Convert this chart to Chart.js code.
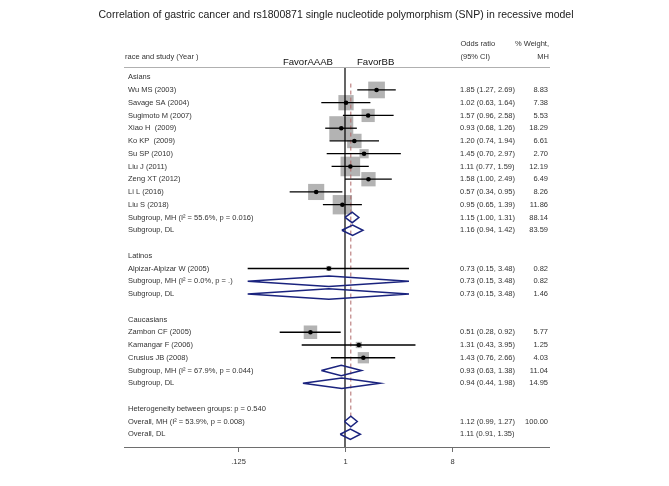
<!DOCTYPE html>
<html><head><meta charset="utf-8">
<script src="https://cdn.jsdelivr.net/npm/chart.js@4"></script>
<style>html,body{margin:0;padding:0;background:#fff}#wrap{width:669px;height:486px;position:relative}</style>
</head><body><div id="wrap"><canvas id="c"></canvas></div>
<script>
const titleText = "Correlation of gastric cancer and rs1800871 single nucleotide polymorphism (SNP) in recessive model";
const rowLabels = [
  "Asians","Wu MS (2003)","Savage SA (2004)","Sugimoto M (2007)","Xiao H  (2009)","Ko KP  (2009)",
  "Su SP (2010)","Liu J (2011)","Zeng XT (2012)","Li L (2016)","Liu S (2018)",
  "Subgroup, MH (I\u00B2 = 55.6%, p = 0.016)","Subgroup, DL","",
  "Latinos","Alpizar-Alpizar W (2005)","Subgroup, MH (I\u00B2 = 0.0%, p = .)","Subgroup, DL","",
  "Caucasians","Zambon CF (2005)","Kamangar F (2006)","Crusius JB (2008)",
  "Subgroup, MH (I\u00B2 = 67.9%, p = 0.044)","Subgroup, DL","",
  "Heterogeneity between groups: p = 0.540","Overall, MH (I\u00B2 = 53.9%, p = 0.008)","Overall, DL"
];
const rowKind = [
  "group","study","study","study","study","study","study","study","study","study","study","pooled","pooled","blank",
  "group","study","pooled","pooled","blank",
  "group","study","study","study","pooled","pooled","blank",
  "text","pooled","pooled"
];
const oddsRatio = [null,1.85,1.02,1.57,0.93,1.20,1.45,1.11,1.58,0.57,0.95,1.15,1.16,null,
  null,0.73,0.73,0.73,null, null,0.51,1.31,1.43,0.93,0.94,null, null,1.12,1.11];
const ciLow = [null,1.27,0.63,0.96,0.68,0.74,0.70,0.77,1.00,0.34,0.65,1.00,0.94,null,
  null,0.15,0.15,0.15,null, null,0.28,0.43,0.76,0.63,0.44,null, null,0.99,0.91];
const ciHigh = [null,2.69,1.64,2.58,1.26,1.94,2.97,1.59,2.49,0.95,1.39,1.31,1.42,null,
  null,3.48,3.48,3.48,null, null,0.92,3.95,2.66,1.38,1.98,null, null,1.27,1.35];
const weightMH = [null,8.83,7.38,5.53,18.29,6.61,2.70,12.19,6.49,8.26,11.86,88.14,83.59,null,
  null,0.82,0.82,1.46,null, null,5.77,1.25,4.03,11.04,14.95,null, null,100.00,null];
const overallOR = 1.12;
const xTickValues = [0.125, 1, 8];
const xTickLabels = [".125", "1", "8"];

const L = v => Math.log2(v);
const datasets = [];
const studyIdx = rowKind.map((k,i)=>k==="study"?i:-1).filter(i=>i>=0);
const pooledIdx = rowKind.map((k,i)=>k==="pooled"?i:-1).filter(i=>i>=0);

// squares
datasets.push({
  type:'scatter', order:6,
  data: studyIdx.map(i=>({x:L(oddsRatio[i]), y:i, w:weightMH[i]})),
  pointStyle:'rect', backgroundColor:'#b3b3b3', borderWidth:0,
  pointRadius: ctx => ctx.raw ? 3.97*Math.sqrt(ctx.raw.w) : 0
});
// reference line at OR = 1
datasets.push({type:'line', order:5, data:[{x:0,y:-0.8},{x:0,y:29}], borderColor:'#000', borderWidth:1.2, pointRadius:0, fill:false});
// dashed overall line
datasets.push({type:'line', order:4, data:[{x:L(overallOR),y:0.5},{x:L(overallOR),y:27-0.41}], borderColor:'#b06a6a', borderWidth:1, borderDash:[4,3], pointRadius:0, fill:false});
// CI lines
studyIdx.forEach(i=>{
  datasets.push({type:'line', order:3, data:[{x:L(ciLow[i]),y:i},{x:L(ciHigh[i]),y:i}], borderColor:'#000', borderWidth:1.3, pointRadius:0, fill:false});
});
// dots
datasets.push({type:'scatter', order:2, data: studyIdx.map(i=>({x:L(oddsRatio[i]), y:i})), pointRadius:2.3, backgroundColor:'#000', borderWidth:0});
// diamonds
const dh = 0.41;
pooledIdx.forEach(i=>{
  datasets.push({type:'line', order:1, data:[
    {x:L(ciLow[i]),y:i},{x:L(oddsRatio[i]),y:i-dh},{x:L(ciHigh[i]),y:i},{x:L(oddsRatio[i]),y:i+dh},{x:L(ciLow[i]),y:i}
  ], borderColor:'#1a237e', borderWidth:1.5, pointRadius:0, fill:false, tension:0, borderJoinStyle:'miter'});
});

const textPlugin = {
  id:'forestText',
  afterDraw(chart){
    const ctx = chart.ctx, xs = chart.scales.x, ys = chart.scales.y, ca = chart.chartArea;
    ctx.save();
    ctx.textBaseline = 'middle';
    // title
    ctx.fillStyle = '#1a1a1a';
    ctx.font = '10.5px "Liberation Sans", Arial, sans-serif';
    ctx.textAlign = 'center';
    ctx.fillText(titleText, 336, 15);
    // top line
    ctx.strokeStyle = '#b0b0b0'; ctx.lineWidth = 1;
    ctx.beginPath(); ctx.moveTo(ca.left, ca.top+0.5); ctx.lineTo(ca.right, ca.top+0.5); ctx.stroke();
    // bottom axis
    ctx.strokeStyle = '#6e6e6e';
    ctx.beginPath(); ctx.moveTo(ca.left, ca.bottom+0.5); ctx.lineTo(ca.right, ca.bottom+0.5); ctx.stroke();
    ctx.font = '7.5px "Liberation Sans", Arial, sans-serif';
    ctx.fillStyle = '#333';
    xTickValues.forEach((v,k)=>{
      const px = Math.round(xs.getPixelForValue(L(v)))+0.5;
      ctx.beginPath(); ctx.moveTo(px, ca.bottom); ctx.lineTo(px, ca.bottom+5); ctx.stroke();
      ctx.textAlign='center';
      ctx.fillText(xTickLabels[k], px, ca.bottom+15);
    });
    // headers
    ctx.textAlign='left';
    ctx.fillText('race and study (Year )', 125, 57);
    ctx.fillText('Odds ratio', 460.5, 44);
    ctx.fillText('(95% CI)', 460.5, 56.5);
    ctx.textAlign='right';
    ctx.fillText('% Weight,', 549, 44);
    ctx.fillText('MH', 549, 56.5);
    ctx.fillStyle = '#111';
    ctx.font = '9.6px "Liberation Sans", Arial, sans-serif';
    ctx.textAlign='right';
    ctx.fillText('FavorAAAB', 333, 62);
    ctx.textAlign='left';
    ctx.fillText('FavorBB', 357, 62);
    // rows
    ctx.font = '7.5px "Liberation Sans", Arial, sans-serif';
    ctx.fillStyle = '#333';
    rowLabels.forEach((lab,i)=>{
      const py = ys.getPixelForValue(i);
      ctx.textAlign='left';
      if (lab) ctx.fillText(lab, 128, py);
      if (oddsRatio[i] != null) {
        ctx.fillText(oddsRatio[i].toFixed(2)+' ('+ciLow[i].toFixed(2)+', '+ciHigh[i].toFixed(2)+')', 460, py);
      }
      if (weightMH[i] != null) {
        ctx.textAlign='right';
        ctx.fillText(weightMH[i].toFixed(2), 548, py);
      }
    });
    ctx.restore();
  }
};

new Chart(document.getElementById('c'), {
  type:'scatter',
  data:{datasets},
  options:{
    responsive:true, maintainAspectRatio:false, animation:false,
    layout:{padding:{left:124, right:119, top:67, bottom:39}},
    plugins:{legend:{display:false}, tooltip:{enabled:false}, title:{display:false}},
    scales:{
      x:{type:'linear', min:-6.215, max:5.765, display:false},
      y:{type:'linear', min:-0.8, max:29, reverse:true, display:false}
    },
    elements:{line:{tension:0}}
  },
  plugins:[textPlugin]
});
</script></body></html>
